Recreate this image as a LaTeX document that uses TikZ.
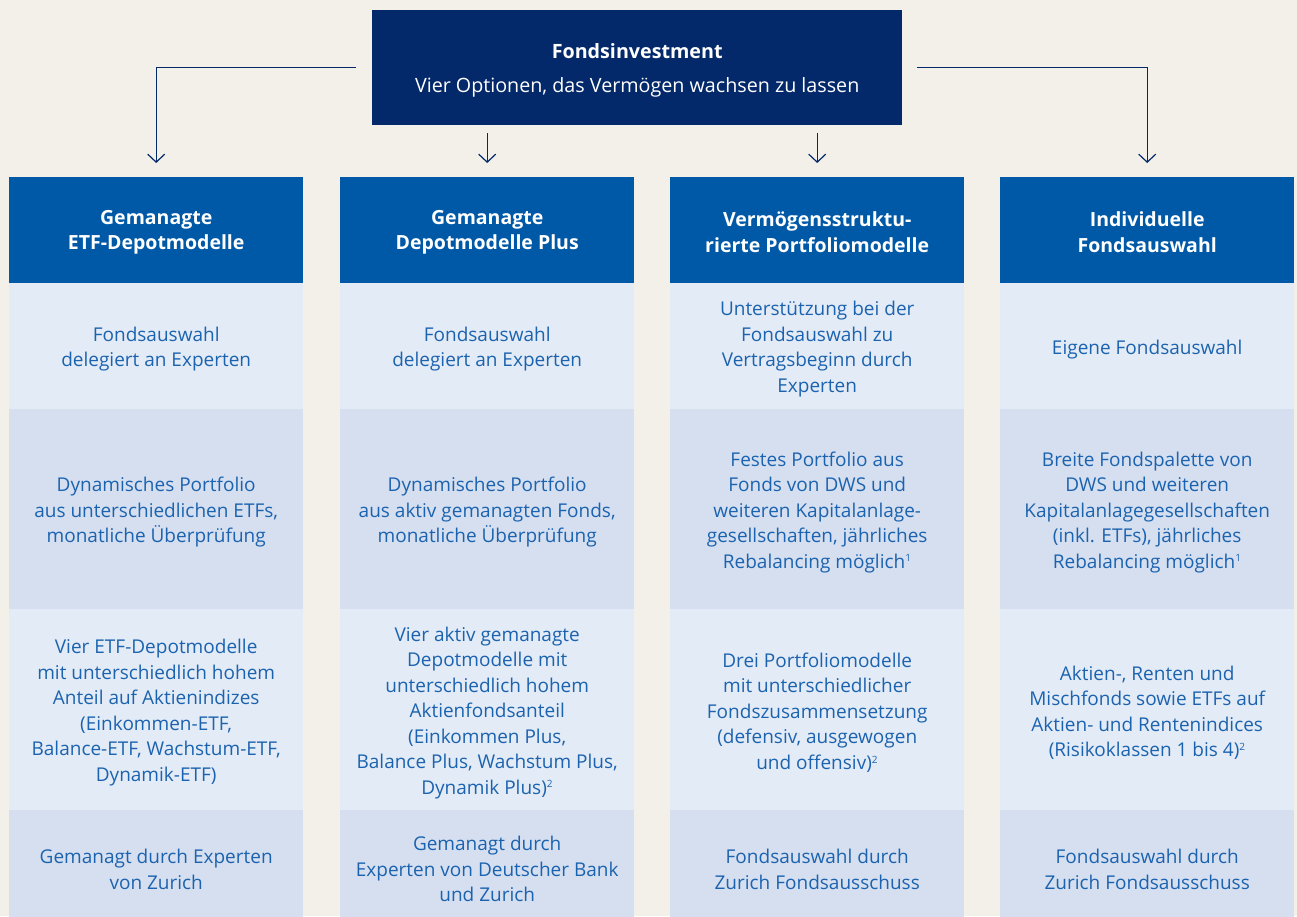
\documentclass[tikz,border=0pt]{standalone}
\usepackage{fontspec}
\setmainfont{Open Sans}
\usetikzlibrary{arrows.meta}
\definecolor{bg}{HTML}{F3F0EA}
\definecolor{navy}{HTML}{03296A}
\definecolor{hdr}{HTML}{0059A7}
\definecolor{rowA}{HTML}{E3EBF6}
\definecolor{rowB}{HTML}{D5DFF0}
\definecolor{txt}{HTML}{1C63AF}
\newcommand{\fn}[1]{\textsuperscript{\fontsize{10}{10}\selectfont #1}}
\tikzset{
  cellbase/.style={anchor=north west, minimum width=294pt, inner sep=0pt},
  hdrcell/.style={cellbase, fill=hdr, minimum height=106pt},
  hdrtext/.style={align=center, text=white, inner sep=0pt, yshift=-2pt, font=\fontsize{19.5}{25.5}\selectfont\bfseries},
  lightcell/.style={cellbase, fill=rowA},
  darkcell/.style={cellbase, fill=rowB},
  ctext/.style={align=center, text=txt, inner sep=0pt, yshift=-3pt, font=\fontsize{19}{25.5}\selectfont},
  arr/.style={draw=navy, line width=1.2pt, -{Straight Barb[length=8pt,width=17pt,line width=1.2pt]}}
}
\begin{document}
\begin{tikzpicture}[x=1pt,y=-1pt]
\fill[bg] (0,0) rectangle (1297,916);
\useasboundingbox (0,0) rectangle (1297,916);
% top box
\node[anchor=north west, fill=navy, minimum width=530pt, minimum height=115pt, inner sep=0pt] (top) at (372,10) {};
\node[text=white, align=center, inner sep=0pt, yshift=-3pt, font=\fontsize{19.7}{34}\selectfont] (toptext) at (top.center)
  {\textbf{Fondsinvestment}\\Vier Optionen, das Vermögen wachsen zu lassen};
% column headers
\foreach \i/\x in {1/9,2/340,3/670,4/1000}{
  \node[hdrcell] (h\i) at (\x,177) {};
}
\node[hdrtext] (t1) at (h1.center) {Gemanagte\\ETF-Depotmodelle};
\node[hdrtext] (t2) at (h2.center) {Gemanagte\\Depotmodelle Plus};
\node[hdrtext] (t3) at (h3.center) {Vermögensstruktu-\\rierte Portfoliomodelle};
\node[hdrtext] (t4) at (h4.center) {Individuelle\\Fondsauswahl};
% cell backgrounds
\foreach \i/\x in {1/9,2/340,3/670,4/1000}{
  \node[lightcell, minimum height=126pt] (a\i) at (\x,283) {};
  \node[darkcell, minimum height=200pt] (b\i) at (\x,409) {};
  \node[lightcell, minimum height=201pt] (c\i) at (\x,609) {};
  \node[darkcell, minimum height=112pt] (d\i) at (\x,810) {};
}
% row 1
\node[ctext] (ta1) at (a1.center) {Fondsauswahl\\delegiert an Experten};
\node[ctext] (ta2) at (a2.center) {Fondsauswahl\\delegiert an Experten};
\node[ctext] (ta3) at (a3.center) {Unterstützung bei der\\Fondsauswahl zu\\Vertragsbeginn durch\\Experten};
\node[ctext] (ta4) at (a4.center) {Eigene Fondsauswahl};
% row 2
\node[ctext] (tb1) at (b1.center) {Dynamisches Portfolio\\aus unterschiedlichen ETFs,\\monatliche Überprüfung};
\node[ctext] (tb2) at (b2.center) {Dynamisches Portfolio\\aus aktiv gemanagten Fonds,\\monatliche Überprüfung};
\node[ctext] (tb3) at (b3.center) {Festes Portfolio aus\\Fonds von DWS und\\weiteren Kapitalanlage-\\gesellschaften, jährliches\\Rebalancing möglich\fn{1}};
\node[ctext] (tb4) at (b4.center) {Breite Fondspalette von\\DWS und weiteren\\Kapitalanlagegesellschaften\\(inkl. ETFs), jährliches\\Rebalancing möglich\fn{1}};
% row 3
\node[ctext] (tc1) at (c1.center) {Vier ETF-Depotmodelle\\mit unterschiedlich hohem\\Anteil auf Aktienindizes\\(Einkommen-ETF,\\Balance-ETF, Wachstum-ETF,\\Dynamik-ETF)};
\node[ctext] (tc2) at (c2.center) {Vier aktiv gemanagte\\Depotmodelle mit\\unterschiedlich hohem\\Aktienfondsanteil\\(Einkommen Plus,\\Balance Plus, Wachstum Plus,\\Dynamik Plus)\fn{2}};
\node[ctext] (tc3) at (c3.center) {Drei Portfoliomodelle\\mit unterschiedlicher\\Fondszusammensetzung\\(defensiv, ausgewogen\\und offensiv)\fn{2}};
\node[ctext] (tc4) at (c4.center) {Aktien-, Renten und\\Mischfonds sowie ETFs auf\\Aktien- und Rentenindices\\(Risikoklassen 1 bis 4)\fn{2}};
% row 4
\node[ctext] (td1) at (d1.center) {Gemanagt durch Experten\\von Zurich};
\node[ctext] (td2) at (d2.center) {Gemanagt durch\\Experten von Deutscher Bank\\und Zurich};
\node[ctext] (td3) at (d3.center) {Fondsauswahl durch\\Zurich Fondsausschuss};
\node[ctext] (td4) at (d4.center) {Fondsauswahl durch\\Zurich Fondsausschuss};
% connectors
\draw[arr, shorten <=16pt, shorten >=14pt] (top.west) -| (h1.north);
\draw[arr, shorten <=15pt, shorten >=14pt] (top.east) -| (h4.north);
\draw[arr, shorten <=8pt, shorten >=14pt] (top.south -| h2.north) -- (h2.north);
\draw[arr, shorten <=8pt, shorten >=14pt] (top.south -| h3.north) -- (h3.north);
\end{tikzpicture}
\end{document}
